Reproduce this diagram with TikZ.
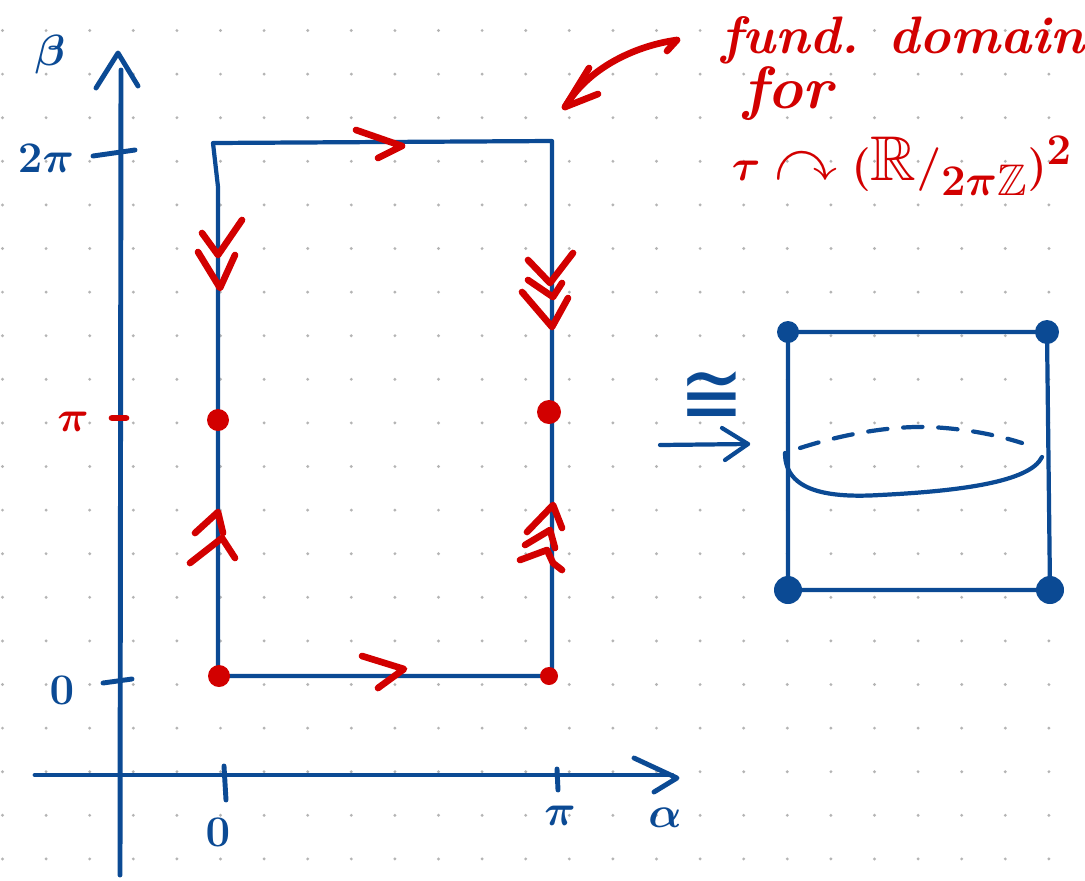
\documentclass[tikz,border=0pt]{standalone}
\usepackage{amssymb}
\usepackage{fontspec}
\newfontfamily\djv{DejaVu Sans}
\usetikzlibrary{arrows.meta}
\definecolor{pblue}{HTML}{0B4A94}
\definecolor{pred}{HTML}{D20000}
\definecolor{griddot}{HTML}{B4B4B4}
\begin{document}
\begin{tikzpicture}[x=0.02cm,y=-0.02cm,
  bl/.style={draw=pblue,line width=2.8pt,line cap=round,line join=round},
  blthin/.style={draw=pblue,line width=2.4pt,line cap=round,line join=round},
  rd/.style={draw=pred,line width=3.8pt,line cap=round,line join=round},
  bluetext/.style={text=pblue,inner sep=0pt},
  redtext/.style={text=pred,inner sep=0pt},
  rdot/.style={fill=pred},
  bdot/.style={fill=pblue}]
\useasboundingbox[fill=white] (0,0) rectangle (1085,880);
% dot grid
\foreach \i in {0,...,24}{
  \foreach \j in {0,...,19}{
    \fill[griddot] (2.5+43.6*\i,30.5+43.6*\j) circle[radius=1.6];
  }
}
% axes
\draw[bl] (120,875) -- (121,70);
\draw[bl] (96,88) -- (118,53) -- (138,86);
\draw[bl] (35,775) -- (672,775);
\draw[bl] (634,758) -- (677,778) -- (654,792);
% ticks
\draw[bl] (224,766) -- (226,800);
\draw[bl] (557,769) -- (558,790);
\draw[bl] (93,156) -- (135,150);
\draw[bl] (103,683) -- (132,679);
\draw[rd] (112,418) -- (126,418);
% axis labels
\node[bluetext,font=\fontsize{46}{46}\selectfont\boldmath] (beta) at (50,55) {$\beta$};
\node[bluetext,font=\fontsize{26}{26}\selectfont\boldmath] (twopi) at (46,158) {$2\pi$};
\node[redtext,font=\fontsize{30}{30}\selectfont\boldmath] (pired) at (73,422) {$\pi$};
\node[bluetext,font=\fontsize{28}{28}\selectfont\boldmath] (zeroy) at (62,690) {$0$};
\node[bluetext,font=\fontsize{30}{30}\selectfont\boldmath] (zerox) at (218,832) {$0$};
\node[bluetext,font=\fontsize{30}{30}\selectfont\boldmath] (pix) at (560,816) {$\pi$};
\node[bluetext,font=\fontsize{36}{36}\selectfont\boldmath] (alpha) at (665,818) {$\alpha$};
% fundamental domain rectangle
\draw[blthin] (218,676) -- (218,187) -- (213,143) -- (552,141) -- (552,676) -- cycle;
% red arrows on horizontal sides
\draw[rd] (356,130) -- (402,146) -- (378,158);
\draw[rd] (362,656) -- (404,669) -- (378,688);
% left side down double chevrons
\draw[rd] (202,233) -- (218,255) -- (242,220);
\draw[rd] (198,252) -- (220,288) -- (235,255);
% right side down triple chevrons
\draw[rd] (528,260) -- (550,283) -- (573,253);
\draw[rd] (528,280) -- (553,297) -- (562,283);
\draw[rd] (522,292) -- (552,327) -- (568,298);
% left side up double chevrons
\draw[rd] (195,533) -- (218,512) -- (223,533);
\draw[rd] (190,563) -- (222,538) -- (235,558);
% right side up triple chevrons
\draw[rd] (527,532) -- (553,505) -- (562,528);
\draw[rd] (525,545) -- (550,530) -- (555,548);
\draw[rd] (520,560) -- (547,550) -- (553,563) -- (562,570);
% red dots
\fill[rdot] (218,420) circle[radius=11];
\fill[rdot] (549,412) circle[radius=12];
\fill[rdot] (219,676) circle[radius=11];
\fill[rdot] (549,676) circle[radius=9];
% red annotation
\draw[rd] (667,51) -- (677,40) .. controls (640,45) and (590,65) .. (565,107);
\draw[rd] (598,94) -- (565,107) -- (589,68);
\node[redtext,font=\fontsize{30}{30}\selectfont\itshape\bfseries] (fund) at (903,40) {fund. domain};
\node[redtext,font=\fontsize{34}{34}\selectfont\itshape\bfseries] (for) at (788,94) {for};
\node[redtext,font=\fontsize{36}{36}\selectfont\boldmath] (act) at (902,166) {$\tau \curvearrowright (\mathbb{R}/_{2\pi\mathbb{Z}})^{2}$};
% isomorphism
\node[bluetext,font=\fontsize{44}{44}\selectfont\djv,yscale=1.15] (iso) at (712,398) {≅};
\coordinate (isoA) at (660,445);
\coordinate (isoB) at (748,444);
\draw[blthin] (isoA) -- (isoB);
\draw[blthin] (722,428) -- (isoB) -- (725,460);
% right box (sphere picture)
\draw[blthin] (788,332) -- (1047,332) -- (1050,590) -- (788,590) -- cycle;
\fill[bdot] (788,332) circle[radius=11];
\fill[bdot] (1047,332) circle[radius=12];
\fill[bdot] (788,590) circle[radius=14];
\fill[bdot] (1050,590) circle[radius=14];
\draw[blthin,dash pattern=on 11pt off 9pt] (800,448) .. controls (850,432) and (895,426) .. (930,427) .. controls (970,429) and (1000,436) .. (1022,443);
\draw[blthin] (785,453) .. controls (785,492) and (830,498) .. (880,495) .. controls (960,491) and (1030,482) .. (1042,457);
\end{tikzpicture}
\end{document}
